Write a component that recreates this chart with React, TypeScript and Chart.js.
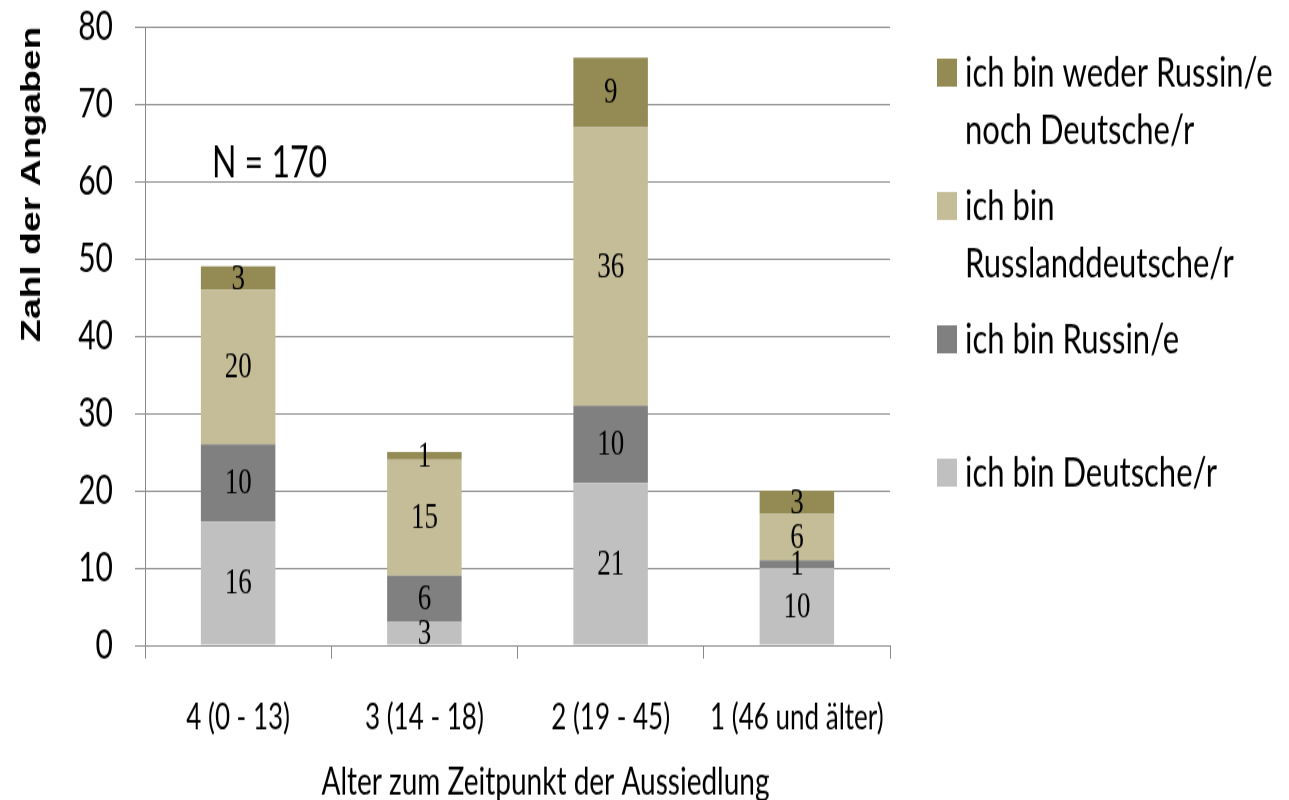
import React, { useEffect, useRef } from 'react';
import { Chart, registerables } from 'chart.js';

Chart.register(...registerables);

const categories = ['4 (0 - 13)', '3 (14 - 18)', '2 (19 - 45)', '1 (46 und älter)'];
const seriesNames = [
  'ich bin Deutsche/r',
  'ich bin Russin/e',
  'ich bin Russlanddeutsche/r',
  'ich bin weder Russin/e noch Deutsche/r',
];
const deutsche = [16, 3, 21, 10];
const russin = [10, 6, 10, 1];
const russlanddeutsche = [20, 15, 36, 6];
const weder = [3, 1, 9, 3];
const seriesColors = ['#c0c0c0', '#808080', '#c4bd97', '#948a54'];
// legend shown top-down (reverse stack order), wrapped as in the reference
const legendLines = [
  ['ich bin weder Russin/e', 'noch Deutsche/r'],
  ['ich bin', 'Russlanddeutsche/r'],
  ['ich bin Russin/e'],
  ['ich bin Deutsche/r'],
];
const yMin = 0;
const yMax = 80;
const yStep = 10;
const noteText = 'N = 170';
const xTitle = 'Alter zum Zeitpunkt der Aussiedlung';
const yTitle = 'Zahl der Angaben';

// The reference is a vertically stretched picture: draw at a lower
// internal height and let the canvas be displayed at full height.
const W = 1289;
const H = 600;
const DISPLAY_H = 800;

const SANS = "Lato, 'Open Sans', sans-serif";
const SERIF = "'Liberation Serif', 'DejaVu Serif', serif";
const GRID = '#8a8a8a';

export default function App() {
  const ref = useRef<HTMLCanvasElement | null>(null);

  useEffect(() => {
    if (!ref.current) return;
    const values = [deutsche, russin, russlanddeutsche, weder];

    const labelPlugin = {
      id: 'segLabels',
      afterDatasetsDraw(chart: any) {
        const ctx = chart.ctx;
        ctx.save();
        ctx.font = `27px ${SERIF}`;
        ctx.fillStyle = '#000';
        ctx.textAlign = 'center';
        ctx.textBaseline = 'middle';
        chart.data.datasets.forEach((ds: any, i: number) => {
          const meta = chart.getDatasetMeta(i);
          meta.data.forEach((el: any, j: number) => {
            const v = ds.data[j];
            if (!v) return;
            ctx.fillText(String(v), el.x, (el.y + el.base) / 2 + 1);
          });
        });
        // N annotation
        const ys = chart.scales.y;
        ctx.font = `32px ${SANS}`;
        ctx.textAlign = 'left';
        ctx.fillText(noteText, chart.chartArea.left + 67, ys.getPixelForValue(62.3));
        ctx.restore();
      },
      afterDraw(chart: any) {
        const ctx = chart.ctx;
        ctx.save();
        // x-axis title (slightly right of the plot centre, as in the reference)
        ctx.font = `28px ${SANS}`;
        ctx.fillStyle = '#000';
        ctx.textAlign = 'center';
        ctx.textBaseline = 'middle';
        const ca = chart.chartArea;
        ctx.fillText(xTitle, (ca.left + ca.right) / 2 + 28, 587);

        // legend
        const x0 = ca.right + 47;
        const n = chart.data.datasets.length;
        ctx.font = `31px ${SANS}`;
        ctx.textAlign = 'left';
        for (let k = 0; k < n; k++) {
          const dsIndex = n - 1 - k;
          const ds = chart.data.datasets[dsIndex];
          const yc = 54.5 + k * 100;
          ctx.fillStyle = ds.backgroundColor;
          ctx.fillRect(x0, yc - 10.5, 20, 21);
          ctx.fillStyle = '#000';
          legendLines[k].forEach((line, li) => {
            ctx.fillText(line, x0 + 28, yc + li * 43);
          });
        }
        ctx.restore();
      },
    };

    const chart = new Chart(ref.current, {
      type: 'bar',
      data: {
        labels: categories,
        datasets: values.map((d, i) => ({
          label: seriesNames[i],
          data: d,
          backgroundColor: seriesColors[i],
          borderWidth: 0,
          barPercentage: 0.4,
          categoryPercentage: 1,
        })),
      },
      options: {
        responsive: false,
        animation: false,
        devicePixelRatio: 1,
        layout: { padding: { top: 20, right: 399, left: 0, bottom: 0 } },
        plugins: {
          legend: { display: false },
          tooltip: { enabled: false },
          title: { display: false },
        },
        scales: {
          x: {
            stacked: true,
            afterFit(scale: any) {
              scale.height = 116;
            },
            grid: {
              offset: true,
              drawOnChartArea: false,
              drawTicks: true,
              tickLength: 10,
              color: GRID,
              lineWidth: 1,
            },
            border: { display: true, color: GRID, width: 1 },
            ticks: {
              color: '#000',
              font: { family: SANS, size: 26, lineHeight: 1 },
              padding: 32,
              maxRotation: 0,
              minRotation: 0,
              autoSkip: false,
            },
            title: { display: false },
          },
          y: {
            stacked: true,
            min: yMin,
            max: yMax,
            afterFit(scale: any) {
              scale.width = 145;
              scale.paddingTop = 0;
              scale.paddingBottom = 0;
            },
            grid: {
              color: GRID,
              lineWidth: 1,
              drawTicks: true,
              tickLength: 10,
            },
            border: { display: true, color: GRID, width: 1 },
            ticks: {
              stepSize: yStep,
              color: '#000',
              font: { family: SANS, size: 30, lineHeight: 1 },
              padding: 22,
            },
            title: {
              display: true,
              text: yTitle,
              align: 'end',
              color: '#000',
              font: { family: "'Liberation Sans', Arial, sans-serif", size: 28, weight: 'bold', lineHeight: 1 },
              padding: { top: 18, bottom: 0 },
            },
          },
        },
      },
      plugins: [labelPlugin],
    } as any);

    return () => chart.destroy();
  }, []);

  return (
    <div style={{ position: 'absolute', left: 0, top: 0, width: W, height: DISPLAY_H, background: '#fff' }}>
      <canvas
        ref={ref}
        width={W}
        height={H}
        style={{ display: 'block', width: `${W}px`, height: `${DISPLAY_H}px` }}
      />
    </div>
  );
}
